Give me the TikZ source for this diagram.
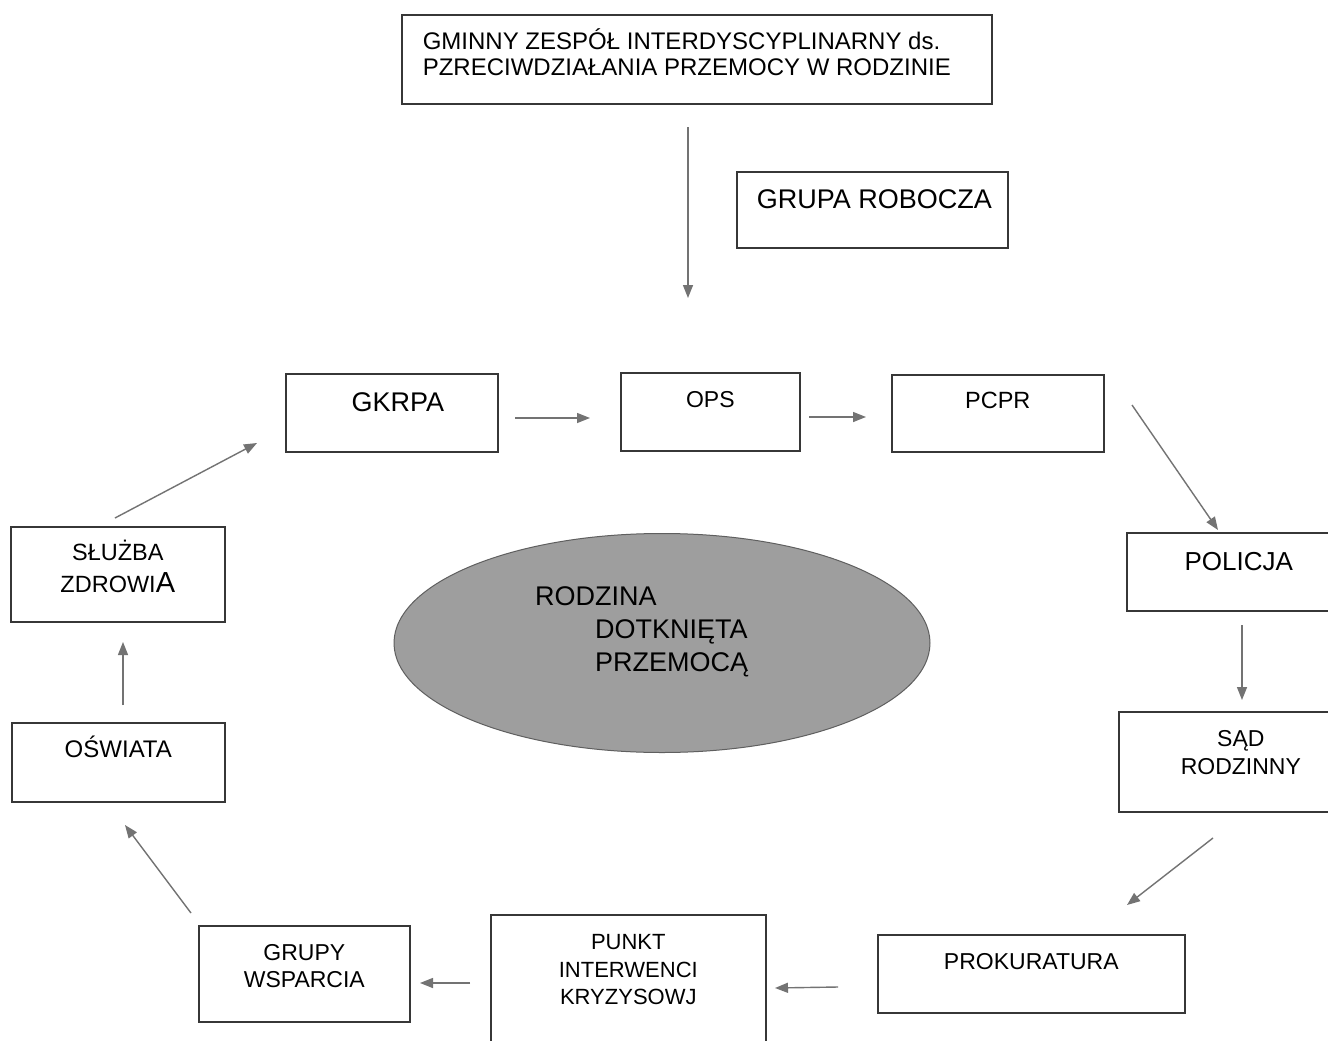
\documentclass[tikz,border=0pt]{standalone}
\usepackage{fontspec}
\setmainfont{Liberation Sans}
\usetikzlibrary{arrows.meta,shapes.geometric}
\definecolor{boxline}{RGB}{55,55,55}
\definecolor{arrowcol}{RGB}{115,115,115}
\definecolor{ellfill}{RGB}{158,158,158}
\newcommand\pbx[6]{\parbox[c][#2pt][t]{#1pt}{\fontsize{#4}{#5}\selectfont\centering\rule{0pt}{#3pt}#6\par}}
\newcommand\pbxl[7]{\parbox[c][#2pt][t]{#1pt}{\fontsize{#4}{#5}\selectfont\raggedright\leftskip=#7pt\rule{0pt}{#3pt}#6\par}}
\tikzset{
  box/.style={draw=boxline, line width=1.6pt, inner sep=0pt, anchor=north west},
  arr/.style={draw=arrowcol, line width=1.4pt, -{Triangle[length=13pt,width=10pt]}}
}
\begin{document}
\begin{tikzpicture}[x=1pt,y=-1pt]
\clip (0,0) rectangle (1328,1041);
\fill[white] (0,0) rectangle (1328,1041);
% boxes
\node[box] (gz) at (401,14) {\pbxl{590}{89}{34.6}{24}{26}{GMINNY ZESPÓŁ INTERDYSCYPLINARNY ds.\\PZRECIWDZIAŁANIA PRZEMOCY W RODZINIE}{21}};
\node[box] (gr) at (736,171) {\pbxl{271}{76}{36.7}{27}{30}{GRUPA ROBOCZA}{20}};
\node[box] (gkrpa) at (285,373) {\pbx{212}{78}{37.6}{27}{30}{\hspace*{12pt}GKRPA}};
\node[box] (ops) at (620,372) {\pbx{179}{78}{34.2}{23}{27}{OPS}};
\node[box] (pcpr) at (891,374) {\pbx{212}{77}{33.4}{23.5}{27}{PCPR}};
\node[box] (pol) at (1126,532) {\pbx{224}{78}{37.3}{26}{30}{POLICJA}};
\node[box] (sad) at (1118,711) {\pbx{244}{100}{34.2}{23}{28}{SĄD\\RODZINNY}};
\node[box] (prok) at (877,934) {\pbx{307}{78}{34.2}{23}{27}{PROKURATURA}};
\node[box] (punkt) at (490,914) {\pbx{275}{140}{34.9}{22}{27.5}{PUNKT\\INTERWENCI\\KRYZYSOWJ}};
\node[box] (grupy) at (198,925) {\pbx{211}{96}{34.2}{23}{27}{GRUPY\\WSPARCIA}};
\node[box] (osw) at (11,722) {\pbx{213}{79}{34.6}{24}{28}{OŚWIATA}};
\node[box] (sluz) at (10,526) {\pbx{214}{95}{33.4}{23.5}{32}{SŁUŻBA\\ZDROWI{\fontsize{29}{32}\selectfont A}}};
% ellipse
\node[ellipse, draw=boxline!80, line width=1pt, fill=ellfill, minimum width=536pt, minimum height=219pt] (ell) at (662,643) {};
\node[anchor=north west, inner sep=0pt, align=left, font=\fontsize{27}{33}\selectfont] (fam) at (535,586)
  {RODZINA\\\hspace*{60pt}DOTKNIĘTA\\\hspace*{60pt}PRZEMOCĄ};
% arrow end points
\coordinate (a0s) at (688,127); \coordinate (a0e) at (688,298);
\coordinate (a1s) at (515,418); \coordinate (a1e) at (590,418);
\coordinate (a2s) at (809,417); \coordinate (a2e) at (866,417);
\coordinate (a3s) at (1132,405); \coordinate (a3e) at (1218,530);
\coordinate (a4s) at (1242,625); \coordinate (a4e) at (1242,700);
\coordinate (a5s) at (1213,838); \coordinate (a5e) at (1127,905);
\coordinate (a6s) at (838,987); \coordinate (a6e) at (775,988);
\coordinate (a7s) at (470,983); \coordinate (a7e) at (420,983);
\coordinate (a8s) at (191,913); \coordinate (a8e) at (125,825);
\coordinate (a9s) at (123,705); \coordinate (a9e) at (123,642);
\coordinate (a10s) at (115,518); \coordinate (a10e) at (257,443);
\foreach \i in {0,...,10} { \draw[arr] (a\i s) -- (a\i e); }
\end{tikzpicture}
\end{document}
